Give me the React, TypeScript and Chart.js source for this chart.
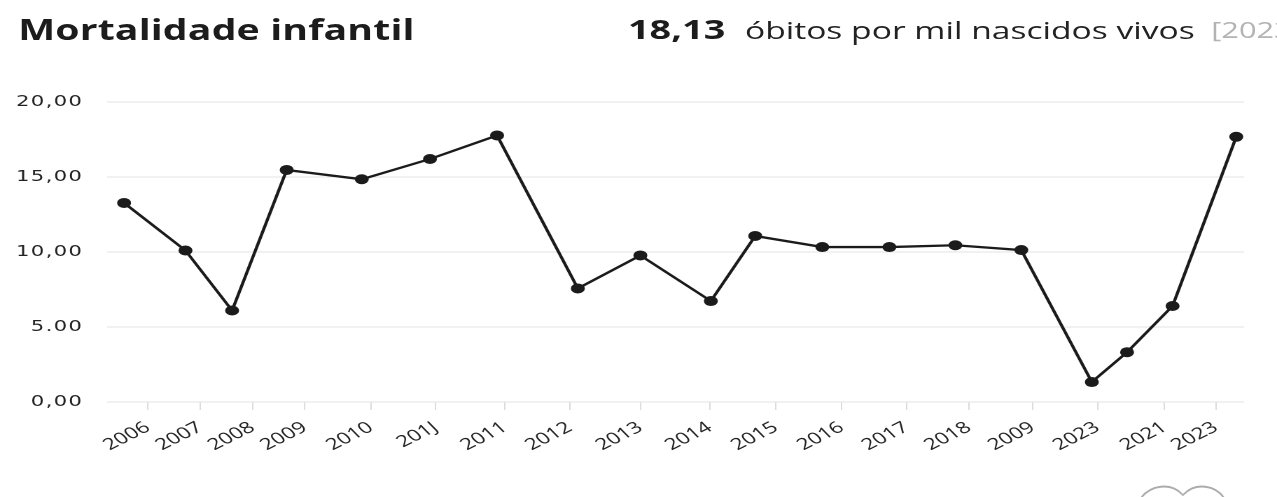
import React, { useEffect, useRef } from 'react';
import { Chart, registerables } from 'chart.js';

Chart.register(...registerables);

// x-axis tick labels (as printed in the reference)
const xLabels = ['2006', '2007', '2008', '2009', '2010', '201J', '2011', '2012', '2013', '2014', '2015', '2016', '2017', '2018', '2009', '2023', '2021', '2023'];
// tick positions along the axis (0–100 % of axis length)
const tickPositions = [3.6, 8.2, 12.8, 17.4, 23.2, 28.9, 35.0, 40.7, 46.9, 53.0, 58.8, 64.6, 70.3, 75.8, 81.4, 87.1, 93.0, 97.5];
// point positions along the same axis
const pointPositions = [1.5, 6.9, 11.0, 15.8, 22.4, 28.4, 34.3, 41.4, 46.9, 53.1, 57.0, 62.9, 68.8, 74.6, 80.4, 86.6, 89.7, 93.7, 99.3];
// mortality values (óbitos por mil nascidos vivos)
const values = [13.27, 10.1, 6.1, 15.47, 14.85, 16.2, 17.77, 7.57, 9.77, 6.73, 11.07, 10.33, 10.33, 10.45, 10.13, 1.33, 3.32, 6.4, 17.68];
// y-axis ticks
const yTickValues = [0, 5, 10, 15, 20];
const yTickLabels = ['0,00', '5.00', '10,00', '15,00', '20,00'];

const STRETCH = 1.4;
const W = 912;
const H = 497;

export default function App() {
  const ref = useRef<HTMLCanvasElement | null>(null);

  useEffect(() => {
    const canvas = ref.current;
    if (!canvas) return;
    const chart = new Chart(canvas, {
      type: 'line',
      data: {
        datasets: [
          {
            data: pointPositions.map((x, i) => ({ x, y: values[i] })),
            borderColor: '#1b1b1b',
            backgroundColor: '#1b1b1b',
            borderWidth: 2.3,
            pointRadius: 5,
            pointBackgroundColor: '#1b1b1b',
            pointBorderWidth: 0,
            tension: 0,
            clip: false as any,
          },
        ],
      },
      options: {
        responsive: false,
        animation: false,
        devicePixelRatio: 2,
        layout: { padding: { top: 102, right: W - 1244 / STRETCH, left: 0, bottom: 0 } },
        plugins: { legend: { display: false }, tooltip: { enabled: false } },
        scales: {
          x: {
            type: 'linear',
            min: 0,
            max: 100,
            afterBuildTicks: (s: any) => {
              s.ticks = tickPositions.map((v) => ({ value: v }));
            },
            afterFit: (s: any) => {
              s.height = H - 402;
            },
            ticks: {
              autoSkip: false,
              minRotation: 35,
              maxRotation: 35,
              callback: (_v: any, i: number) => xLabels[i],
              font: { family: 'Open Sans', size: 16 },
              color: '#222',
              padding: 8,
            },
            grid: { drawOnChartArea: false, drawTicks: true, tickLength: 8, color: '#dcdcdc' },
            border: { display: false },
          },
          y: {
            min: 0,
            max: 20,
            afterBuildTicks: (s: any) => {
              s.ticks = yTickValues.map((v) => ({ value: v }));
            },
            afterFit: (s: any) => {
              s.width = 107 / STRETCH;
            },
            afterUpdate: (s: any) => {
              if (s.__patched) return;
              const orig = s.drawLabels;
              s.drawLabels = function (area: any) {
                const ctx = this.ctx as any;
                const prev = ctx.letterSpacing;
                ctx.letterSpacing = '1px';
                orig.call(this, area);
                ctx.letterSpacing = prev || '0px';
              };
              s.__patched = true;
            },
            ticks: {
              callback: (_v: any, i: number) => yTickLabels[i],
              font: { family: 'DejaVu Sans', size: 15 },
              color: '#222',
              padding: 17,
            },
            grid: { color: '#e2e2e2', drawTicks: false },
            border: { display: false },
          },
        },
      },
    });
    return () => chart.destroy();
  }, []);

  return (
    <div style={{ position: 'fixed', left: 0, top: 0, width: 1277, height: 497, overflow: 'hidden', background: '#fff' }}>
      <div
        style={{
          position: 'absolute',
          left: 0,
          top: 0,
          width: W,
          height: H,
          transform: `scaleX(${1277 / W})`,
          transformOrigin: '0 0',
        }}
      >
        <canvas ref={ref} width={W} height={H} style={{ display: 'block' }} />
        <div
          style={{
            position: 'absolute',
            left: 13,
            top: 10,
            font: '700 28px "Open Sans"',
            letterSpacing: '0.1px',
            color: '#1c1c1c',
            whiteSpace: 'nowrap',
            lineHeight: 'normal',
          }}
        >
          Mortalidade infantil
        </div>
        <div
          style={{
            position: 'absolute',
            left: 448.5,
            top: 9.5,
            font: '700 27px "Open Sans"',
            color: '#1c1c1c',
            whiteSpace: 'nowrap',
            lineHeight: 'normal',
          }}
        >
          18,13
        </div>
        <div
          style={{
            position: 'absolute',
            left: 532,
            top: 13,
            font: '400 24px "Open Sans"',
            color: '#222',
            whiteSpace: 'nowrap',
            lineHeight: 'normal',
          }}
        >
          óbitos por mil nascidos vivos
        </div>
        <div
          style={{
            position: 'absolute',
            left: 865,
            top: 14,
            font: '400 22px "Open Sans"',
            color: '#b3b3b3',
            whiteSpace: 'nowrap',
            lineHeight: 'normal',
          }}
        >
          [2023]
        </div>
      </div>
      <svg width={1277} height={497} style={{ position: 'absolute', left: 0, top: 0, pointerEvents: 'none' }}>
        <path
          d="M1141 498 C1150 486, 1170 481, 1183 495 C1196 481, 1216 486, 1224 498"
          fill="none"
          stroke="#acacac"
          strokeWidth={1.8}
        />
      </svg>
    </div>
  );
}
